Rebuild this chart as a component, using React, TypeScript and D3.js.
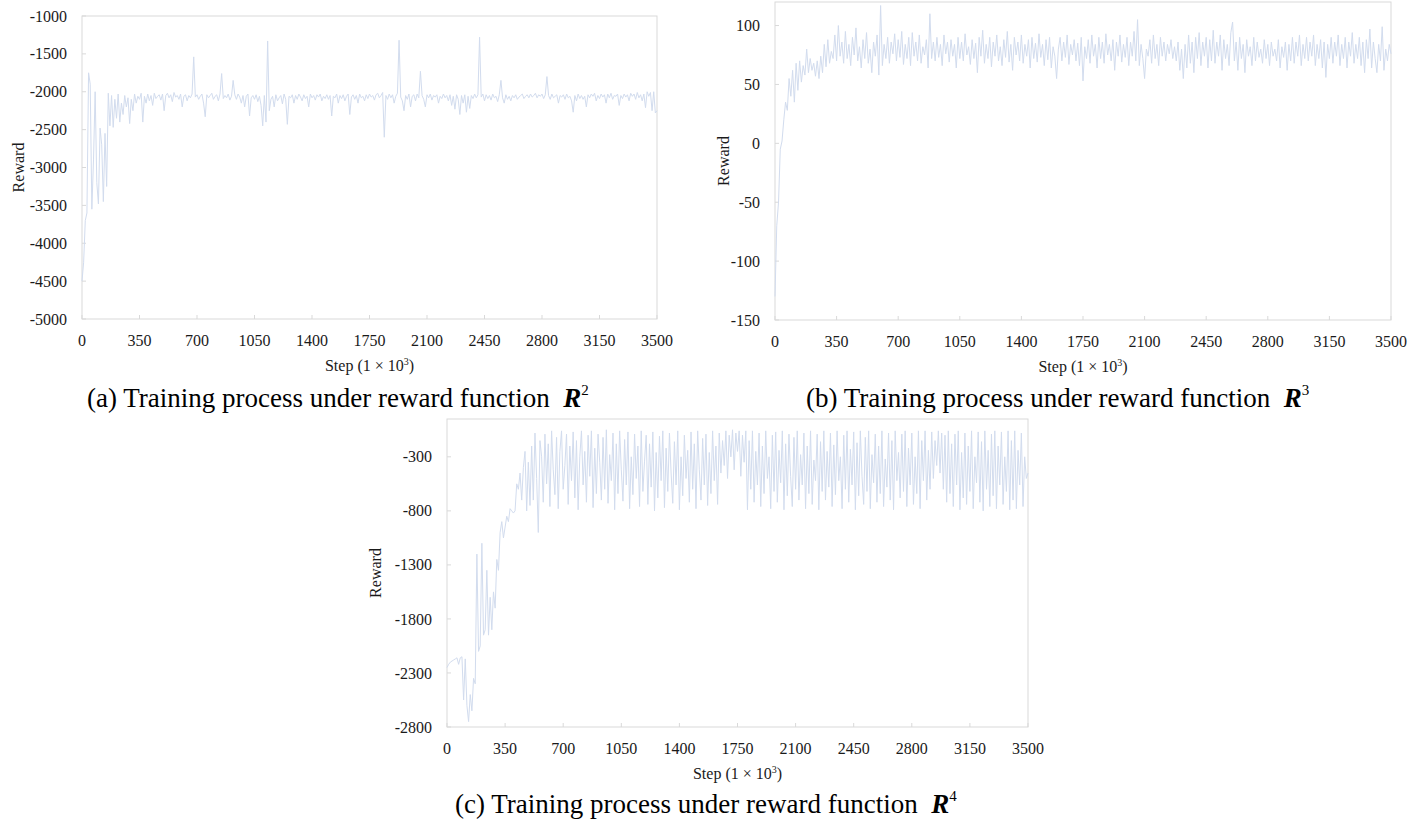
import React from "react";
import * as d3 from "d3";

// ---------- data ----------
const STEP_INTERVAL = 10; // one recorded reward every 10 (x1e3) steps
const X_TICKS = [0, 350, 700, 1050, 1400, 1750, 2100, 2450, 2800, 3150, 3500];

const Y_TICKS_A = [-5000, -4500, -4000, -3500, -3000, -2500, -2000, -1500, -1000];
const Y_TICKS_B = [-150, -100, -50, 0, 50, 100];
const Y_TICKS_C = [-2800, -2300, -1800, -1300, -800, -300];

const REWARD_R2 = [
  -4500, -4250, -3700, -3600, -1750, -1900, -3550, -2900, -2000, -3200,
  -3480, -2480, -2700, -3450, -2550, -3250, -2020, -2450, -2050, -2470,
  -2100, -2350, -2030, -2400, -2150, -2300, -2050, -2200, -2080, -2420,
  -2100, -2250, -2030, -2150, -2060, -2100, -2020, -2400, -2060, -2150,
  -2030, -2120, -2050, -2180, -2020, -2090, -2060, -2040, -2110, -2030,
  -2250, -2050, -2020, -2080, -2040, -2130, -2010, -2070, -2050, -2100,
  -2030, -2200, -2060, -2040, -2120, -2050, -2080, -2030, -1540, -2070,
  -2040, -2100, -2060, -2030, -2150, -2330, -2040, -2080, -2050, -2020,
  -2100, -2060, -2040, -2120, -2030, -1760, -2090, -2050, -2080, -2030,
  -2110, -2060, -1850, -2040, -2100, -2030, -2070, -2150, -2050, -2200,
  -2060, -2030, -2320, -2080, -2050, -2100, -2040, -2130, -2060, -2180,
  -2450, -2050, -2400, -1330, -2250, -2100, -2060, -2200, -2040, -2120,
  -2080, -2050, -2160, -2030, -2100, -2430, -2060, -2080, -2040, -2150,
  -2050, -2100, -2030, -2070, -2120, -2040, -2090, -2060, -2200, -2030,
  -2080, -2050, -2110, -2040, -2070, -2030, -2120, -2060, -2090, -2040,
  -2100, -2050, -2320, -2060, -2080, -2030, -2150, -2050, -2090, -2040,
  -2120, -2060, -2030, -2300, -2070, -2040, -2100, -2050, -2150, -2030,
  -2080, -2060, -2120, -2040, -2090, -2030, -2070, -2050, -2110, -2040,
  -2020, -2080, -2050, -2010, -2600, -2050, -2100, -2030, -2080, -2040,
  -2150, -2060, -2020, -1320, -2070, -2120, -2250, -2050, -2100, -2030,
  -2200, -2060, -2040, -2120, -2030, -2080, -1730, -2050, -2100, -2200,
  -2040, -2080, -2030, -2110, -2050, -2070, -2040, -2150, -2060, -2090,
  -2030, -2080, -2050, -2120, -2040, -2180, -2060, -2230, -2040, -2100,
  -2300, -2050, -2150, -2040, -2270, -2060, -2220, -2050, -2090, -2030,
  -2080, -2040, -1280, -2070, -2030, -2120, -2040, -2090, -2050, -2110,
  -2030, -2080, -2060, -2130, -2040, -1850, -2080, -2150, -2040, -2100,
  -2060, -2120, -2050, -2080, -2040, -2100, -2070, -2050, -2030, -2090,
  -2060, -2040, -2080, -2030, -2070, -2050, -2020, -2080, -2040, -2060,
  -2030, -2090, -2040, -1800, -2050, -2100, -2030, -2080, -2060, -2040,
  -2150, -2050, -2070, -2040, -2100, -2030, -2080, -2060, -2120, -2270,
  -2050, -2120, -2030, -2090, -2050, -2100, -2060, -2200, -2040, -2080,
  -2030, -2060, -2020, -2120, -2050, -2090, -2030, -2070, -2040, -2150,
  -2030, -2080, -2020, -2100, -2050, -2060, -2030, -2180, -2050, -2090,
  -2030, -2070, -2040, -2120, -2020, -2060, -2030, -2100, -2010, -2080,
  -2040, -2120, -2030, -2210, -2000, -2060, -2010, -2250, -2000, -2280,
  -2250,
];

const REWARD_R3 = [
  -130, -70, -50, -5, 2, 20, 35, 28, 55, 40,
  62, 35, 68, 45, 70, 52, 66, 58, 80, 60,
  72, 62, 68, 57, 70, 55, 74, 60, 84, 65,
  88, 68, 78, 72, 92, 70, 100, 74, 86, 68,
  95, 72, 84, 66, 90, 75, 98, 70, 82, 64,
  88, 72, 94, 68, 80, 60, 86, 74, 92, 58,
  117, 66, 84, 72, 90, 68, 86, 76, 93, 70,
  88, 73, 95, 67, 84, 72, 90, 66, 94, 74,
  86, 70, 92, 68, 82, 75, 88, 64, 110, 72,
  86, 70, 90, 73, 84, 66, 92, 76, 86, 69,
  88, 74, 84, 64, 90, 72, 86, 70, 93, 75,
  82, 67, 88, 72, 85, 60, 90, 74, 96, 68,
  84, 72, 90, 65, 86, 74, 92, 70, 82, 66,
  88, 73, 95, 69, 84, 62, 90, 75, 86, 70,
  92, 68, 84, 74, 88, 64, 90, 72, 85, 69,
  93, 73, 84, 66, 88, 71, 90, 64, 82, 74,
  55, 80, 90, 70, 86, 73, 92, 67, 84, 75,
  88, 70, 85, 66, 90, 53, 82, 72, 88, 68,
  92, 74, 84, 64, 90, 72, 86, 68, 93, 75,
  84, 70, 88, 62, 86, 74, 92, 69, 84, 73,
  90, 66, 86, 74, 95, 70, 105, 66, 84, 72,
  55, 80, 74, 88, 68, 92, 72, 84, 66, 90,
  74, 86, 70, 84, 76, 88, 72, 82, 70, 86,
  62, 80, 55, 84, 64, 92, 68, 86, 60, 90,
  72, 94, 66, 86, 74, 90, 64, 88, 70, 96,
  68, 86, 74, 92, 62, 88, 72, 84, 66, 94,
  103, 70, 86, 62, 90, 72, 84, 60, 88, 74,
  82, 66, 90, 70, 86, 73, 80, 68, 88, 72,
  84, 66, 86, 74, 80, 70, 88, 64, 82, 73,
  86, 62, 84, 70, 90, 68, 86, 74, 92, 66,
  84, 72, 90, 70, 86, 74, 92, 66, 84, 72,
  88, 64, 86, 56, 84, 72, 90, 68, 86, 74,
  92, 66, 84, 72, 90, 64, 86, 74, 94, 68,
  84, 72, 90, 66, 86, 60, 88, 72, 97, 64,
  86, 72, 60, 84, 70, 99, 62, 80, 70, 84,
  76,
];

const REWARD_R4 = [
  -2250, -2220, -2200, -2190, -2180, -2170, -2160, -2220, -2160, -2150,
  -2550, -2170, -2600, -2750, -2500, -2650, -2350, -2400, -1200, -2100,
  -2050, -1100, -1950, -1900, -1350, -1950, -1600, -1900, -1550, -1700,
  -1250, -1350, -1000, -900, -1050, -950, -850, -900, -780, -800,
  -820, -800, -550, -600, -450, -700, -400, -250, -800, -350,
  -750, -200, -700, -80, -500, -1000, -150,
  -300, -720, -90, -550, -180, -760, -60, -420, -650, -120,
  -780, -250, -60, -600, -380, -90, -740, -200, -520, -70,
  -680, -150, -790, -300, -60, -560, -250, -720, -100, -480,
  -60, -770, -220, -640, -90, -350, -700, -120, -600, -50,
  -730, -280, -520, -80, -790, -180, -640, -60, -420, -710,
  -140, -560, -70, -780, -300, -650, -90, -500, -200, -760,
  -60, -620, -340, -100, -740, -180, -580, -70, -800, -260,
  -680, -110, -520, -60, -770, -220, -620, -80, -450, -730,
  -160, -560, -60, -790, -300, -660, -100, -500, -240, -720,
  -70, -600, -180, -780, -60, -420, -700, -130, -560, -90,
  -750, -260, -640, -60, -520, -200, -740, -80, -450, -150,
  -380, -60, -500, -100, -300, -50, -420, -80, -250, -60,
  -480, -100, -350, -60, -790, -150, -600, -60, -720, -250,
  -560, -80, -760, -200, -640, -60, -500, -300, -780, -100,
  -620, -70, -720, -240, -540, -60, -790, -180, -660, -90,
  -480, -760, -120, -600, -60, -700, -280, -560, -80, -780,
  -200, -640, -60, -740, -330, -520, -90, -790, -160, -620,
  -60, -700, -250, -580, -80, -760, -190, -650, -60, -520,
  -300, -780, -100, -600, -60, -720, -230, -560, -70, -790,
  -170, -660, -60, -480, -740, -120, -620, -60, -780, -280,
  -540, -90, -720, -200, -640, -60, -760, -320, -580, -80,
  -700, -150, -790, -60, -520, -260, -680, -90, -620, -60,
  -760, -220, -560, -80, -740, -300, -640, -60, -780, -150,
  -520, -60, -700, -240, -600, -70, -500, -150, -380, -60,
  -450, -80, -600, -100, -720, -60, -640, -180, -760, -90,
  -560, -60, -790, -260, -680, -80, -740, -200, -620, -60,
  -780, -300, -540, -70, -720, -160, -800, -60, -600, -240,
  -760, -90, -660, -60, -780, -200, -560, -70, -740, -300,
  -620, -60, -790, -150, -700, -60, -780, -240, -560, -80,
  -760, -300, -500, -450,
];

// ---------- styling ----------
const FONT = "'Liberation Serif', 'Times New Roman', serif";
const LINE_COLOR = "#d2dcee";
const FRAME_COLOR = "#d9d9d9";
const TEXT_COLOR = "#1a1a1a";

type PanelProps = {
  values: number[];
  yDomain: [number, number];
  yTicks: number[];
  x0: number;
  x1: number;
  y0: number;
  y1: number;
  rewardOffset: number;
  letter: string;
  sup: string;
  captionX: number;
  captionY: number;
};

function Panel(p: PanelProps) {
  const x = d3.scaleLinear().domain([0, 3500]).range([p.x0, p.x1]);
  const y = d3.scaleLinear().domain(p.yDomain).range([p.y1, p.y0]);
  const line = d3
    .line<number>()
    .x((_, i) => x(i * STEP_INTERVAL))
    .y((d) => y(d));
  const midX = (p.x0 + p.x1) / 2;
  const midY = (p.y0 + p.y1) / 2;
  return (
    <g>
      <rect
        x={p.x0}
        y={p.y0}
        width={p.x1 - p.x0}
        height={p.y1 - p.y0}
        fill="none"
        stroke={FRAME_COLOR}
        strokeWidth={1}
      />
      {X_TICKS.map((t) => (
        <g key={"x" + t}>
          <line x1={x(t)} x2={x(t)} y1={p.y1} y2={p.y1 - 4} stroke={FRAME_COLOR} />
          <text x={x(t)} y={p.y1 + 27} textAnchor="middle" fontSize={16} fill={TEXT_COLOR}>
            {t}
          </text>
        </g>
      ))}
      {p.yTicks.map((t) => (
        <g key={"y" + t}>
          <line x1={p.x0} x2={p.x0 + 4} y1={y(t)} y2={y(t)} stroke={FRAME_COLOR} />
          <text
            x={p.x0 - 15}
            y={y(t)}
            dy="0.35em"
            textAnchor="end"
            fontSize={16}
            fill={TEXT_COLOR}
          >
            {t}
          </text>
        </g>
      ))}
      <path d={line(p.values) || ""} fill="none" stroke={LINE_COLOR} strokeWidth={1} />
      <text
        transform={`translate(${p.x0 - p.rewardOffset},${midY}) rotate(-90)`}
        textAnchor="middle"
        dy="0.35em"
        fontSize={16}
        fill={TEXT_COLOR}
      >
        Reward
      </text>
      <text x={midX} y={p.y1 + 52} textAnchor="middle" fontSize={16} fill={TEXT_COLOR}>
        Step (1 × 10
        <tspan fontSize={10} dy={-6}>
          3
        </tspan>
        <tspan dy={6}>)</tspan>
      </text>
      <text x={p.captionX} y={p.captionY} fontSize={27} fill="#000">
        ({p.letter}) Training process under reward function{"\u00a0\u00a0"}
        <tspan fontWeight="bold" fontStyle="italic">
          R
        </tspan>
        <tspan fontSize={15} dy={-12}>
          {p.sup}
        </tspan>
      </text>
    </g>
  );
}

export default function App() {
  return (
    <div style={{ position: "absolute", left: 0, top: 0 }}>
      <svg
        width={1425}
        height={819}
        style={{ display: "block", background: "#fff" }}
        fontFamily={FONT}
      >
        <Panel
          values={REWARD_R2}
          yDomain={[-5000, -1000]}
          yTicks={Y_TICKS_A}
          x0={82}
          x1={657}
          y0={16}
          y1={319}
          rewardOffset={64}
          letter="a"
          sup="2"
          captionX={87}
          captionY={407}
        />
        <Panel
          values={REWARD_R3}
          yDomain={[-150, 120]}
          yTicks={Y_TICKS_B}
          x0={775}
          x1={1391}
          y0={2}
          y1={320}
          rewardOffset={52}
          letter="b"
          sup="3"
          captionX={806}
          captionY={407}
        />
        <Panel
          values={REWARD_R4}
          yDomain={[-2800, 50]}
          yTicks={Y_TICKS_C}
          x0={447}
          x1={1028}
          y0={419}
          y1={727}
          rewardOffset={72}
          letter="c"
          sup="4"
          captionX={455}
          captionY={813}
        />
      </svg>
    </div>
  );
}
